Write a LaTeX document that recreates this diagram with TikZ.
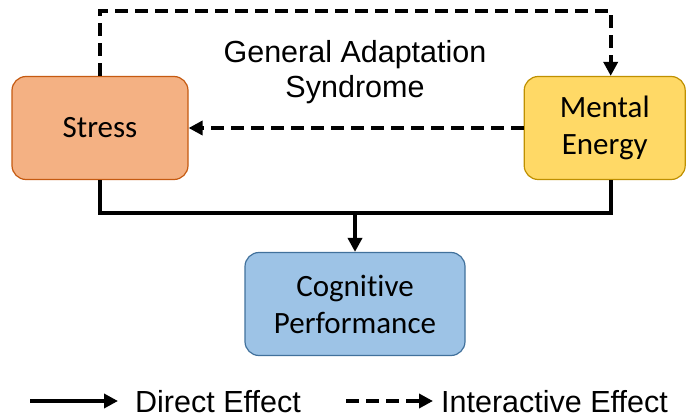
\documentclass[tikz,border=0pt]{standalone}
\usepackage{fontspec}
\setmainfont{Liberation Sans}
\newfontfamily\calibri[Ligatures=NoCommon]{Carlito}
\usetikzlibrary{arrows.meta, positioning}

\definecolor{stressfill}{HTML}{F4B183}
\definecolor{stressdraw}{HTML}{C55A11}
\definecolor{energyfill}{HTML}{FFD966}
\definecolor{energydraw}{HTML}{BF9000}
\definecolor{cogfill}{HTML}{9DC3E6}
\definecolor{cogdraw}{HTML}{41719C}

\begin{document}
\begin{tikzpicture}[x=1pt, y=-1pt, node distance=335pt, auto]
	\tikzstyle{block} = [rectangle, draw, line width=1.2pt, rounded corners=14pt, text centered, align=center, minimum height=103pt, font=\calibri\fontsize{31}{37}\selectfont]
	\tikzstyle{line} = [draw, -{Triangle[length=14pt, width=14pt]}, line width=3.8pt]
	\tikzstyle{dline} = [line, dash pattern=on 13pt off 7pt]
	\tikzstyle{gastext} = [font=\fontsize{30.5}{35}\selectfont, align=center]
	\tikzstyle{legend} = [font=\fontsize{30.5}{35}\selectfont, inner sep=0pt]

	\useasboundingbox (0,0) rectangle (686,420);

	\node [block, fill=stressfill, draw=stressdraw, minimum width=176pt] (stress) at (100,128) {Stress};
	\node [block, fill=energyfill, draw=energydraw, minimum width=161pt, right=335pt of stress] (energy) {Mental\\Energy};
	\node [block, fill=cogfill, draw=cogdraw, minimum width=220pt] (cog) at (355,304) {Cognitive\\Performance};

	\node [gastext] (gas) at (355,72) {General Adaptation\\Syndrome};

	% interactive paths
	\path [dline] (stress.north) -- ++(0,-65) -| ([xshift=6pt]energy.north);
	\path [dline] (energy.west) -- (stress.east);

	% direct paths
	\coordinate (merge) at ([yshift=39pt]cog.north);
	\draw [line width=3.8pt] (stress.south) |- (merge) -| ([xshift=6pt]energy.south);
	\path [line] (merge) -- (cog.north);

	% legend
	\coordinate (solidA) at (30,401);
	\coordinate (solidB) at (118,401);
	\path [line] (solidA) -- (solidB);
	\node [legend, anchor=base west] (direct) at (135,412) {Direct Effect};
	\coordinate (dashA) at (346,401);
	\coordinate (dashB) at (433,401);
	\path [dline] (dashA) -- (dashB);
	\node [legend, anchor=base west] (inter) at (441,412) {Interactive Effect};
\end{tikzpicture}
\end{document}
